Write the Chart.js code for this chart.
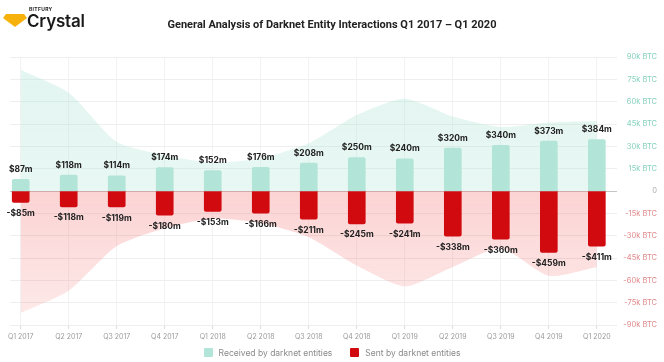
<!DOCTYPE html>
<html>
<head>
<meta charset="utf-8">
<script src="https://cdn.jsdelivr.net/npm/chart.js@4"></script>
<style>
  html, body { margin: 0; padding: 0; background: #fff; }
  #wrap { position: relative; width: 664px; height: 362px; font-family: Inter, Roboto, sans-serif; }
  #logo { position: absolute; left: 3px; top: 7px; }
  #brand-small { position: absolute; left: 29px; top: 6px; font-size: 5px; font-weight: 700; letter-spacing: .3px; color: #222; }
  #brand { position: absolute; left: 27px; top: 11px; font-size: 17px; font-weight: 600; color: #1a1a1a; letter-spacing: -.2px; }
  #title { position: absolute; left: 0; width: 664px; top: 18px; text-align: center; font-size: 11px; font-weight: 700; color: #222; font-family: Roboto, sans-serif; }
  #legend { position: absolute; left: 0; width: 664px; top: 348px; text-align: center; font-size: 8.5px; color: #8a8a8a; }
  #legend span.it { display: inline-block; margin: 0 9px; }
  #legend i { display: inline-block; width: 9px; height: 9px; border-radius: 1px; vertical-align: -1px; margin-right: 6px; }
</style>
</head>
<body>
<div id="wrap">
  <canvas id="c" width="664" height="362"></canvas>
  <svg id="logo" width="24" height="24" viewBox="0 0 24 24"><polygon points="3,7 21,7 24,11 12,20 0,11" fill="#f6b10a"/></svg>
  <div id="brand-small">BITFURY</div>
  <div id="brand">Crystal</div>
  <div id="title">General Analysis of Darknet Entity Interactions Q1 2017 – Q1 2020</div>
  <div id="legend"></div>
</div>
<script>
// ── Data ─────────────────────────────────────────────────
const quarters = ['Q1 2017','Q2 2017','Q3 2017','Q4 2017','Q1 2018','Q2 2018','Q3 2018','Q4 2018','Q1 2019','Q2 2019','Q3 2019','Q4 2019','Q1 2020'];
// USD millions (bars)
const receivedUsd = [87, 118, 114, 174, 152, 176, 208, 250, 240, 320, 340, 373, 384];
const sentUsd = [-85, -118, -119, -180, -153, -166, -211, -245, -241, -338, -360, -459, -411];
// BTC volume (background areas)
const receivedBtc = [81500, 66000, 33000, 24000, 19000, 22000, 32000, 51000, 62000, 50000, 43000, 46000, 47000];
const sentBtc = [-82000, -67000, -37000, -25000, -18500, -21500, -31000, -50000, -64000, -51000, -38500, -57000, -51000];
const btcTicks = [-90000, -75000, -60000, -45000, -30000, -15000, 0, 15000, 30000, 45000, 60000, 75000, 90000];

const GREEN = '#b2e5d7', RED = '#d10a10';
const pts = arr => arr.map((v, i) => ({ x: i, y: v }));

// ── Area gradients ───────────────────────────────────────
function grad(ctx, area, up, col, a0, a1) {
  if (!area) return col;
  const mid = (area.top + area.bottom) / 2;
  const g = ctx.createLinearGradient(0, mid, 0, up ? area.top : area.bottom);
  g.addColorStop(0, `rgba(${col},${a0})`);
  g.addColorStop(1, `rgba(${col},${a1})`);
  return g;
}

// ── Value labels on bars ─────────────────────────────────
const barLabels = {
  id: 'barLabels',
  afterDatasetsDraw(chart) {
    const ctx = chart.ctx;
    ctx.save();
    ctx.font = '700 8.5px Inter, sans-serif';
    ctx.fillStyle = '#222';
    ctx.textAlign = 'center';
    ctx.textBaseline = 'middle';
    [0, 1].forEach(di => {
      const ds = chart.data.datasets[di];
      chart.getDatasetMeta(di).data.forEach((el, i) => {
        const v = ds.data[i].y;
        const txt = (v < 0 ? '-$' : '$') + Math.abs(v) + 'm';
        ctx.fillText(txt, el.x, v < 0 ? el.y + 11 : el.y - 10);
      });
    });
    ctx.restore();
  }
};

const ctx = document.getElementById('c').getContext('2d');
new Chart(ctx, {
  data: {
    datasets: [
      { type: 'bar', label: 'Received by darknet entities', data: pts(receivedUsd), yAxisID: 'y', backgroundColor: GREEN, barThickness: 17, borderRadius: 2, borderSkipped: 'start', grouped: false, order: 0, clip: false },
      { type: 'bar', label: 'Sent by darknet entities', data: pts(sentUsd), yAxisID: 'y', backgroundColor: RED, barThickness: 17, borderRadius: 2, borderSkipped: 'start', grouped: false, order: 0, clip: false },
      { type: 'line', label: 'rbtc', data: pts(receivedBtc), yAxisID: 'y2', fill: 'origin', borderWidth: 0, pointRadius: 0, tension: .22, order: 1,
        backgroundColor: c => grad(c.chart.ctx, c.chart.chartArea, true, '178,229,215', .3, .36) },
      { type: 'line', label: 'sbtc', data: pts(sentBtc), yAxisID: 'y2', fill: 'origin', borderWidth: 0, pointRadius: 0, tension: .22, order: 1,
        backgroundColor: c => grad(c.chart.ctx, c.chart.chartArea, false, '244,110,110', .3, .14) }
    ]
  },
  options: {
    responsive: false, animation: false,
    layout: { padding: { left: 10, right: 7, top: 57, bottom: 21 } },
    plugins: { legend: { display: false }, tooltip: { enabled: false } },
    scales: {
      x: {
        type: 'linear', min: -0.223, max: 12.42, offset: false,
        afterBuildTicks: s => { s.ticks = quarters.map((_, i) => ({ value: i })); },
        afterFit: s => { s.height = 16; },
        ticks: { color: '#9a9a9a', font: { family: 'Inter', size: 7 }, padding: 4, maxRotation: 0, autoSkip: false, callback: v => quarters[v] },
        grid: { offset: false, color: '#f2f2f2', tickLength: 4, tickColor: '#dddddd' },
        border: { display: false }
      },
      y: { display: false, min: -1000, max: 1000 },
      y2: {
        position: 'right', min: -90000, max: 90000,
        afterBuildTicks: s => { s.ticks = btcTicks.map(v => ({ value: v })); },
        afterFit: s => { s.width = 40; },
        ticks: {
          crossAlign: 'far', padding: 4,
          font: { family: 'Inter', size: 7.5 },
          color: c => c.tick.value > 0 ? '#86d1bd' : c.tick.value < 0 ? '#e0898b' : '#aaa',
          callback: v => v === 0 ? '0' : (v / 1000) + 'k BTC'
        },
        grid: { drawTicks: false, color: c => c.tick.value === 0 ? '#c4c4c4' : '#eeeeee' },
        border: { display: false }
      }
    }
  },
  plugins: [barLabels]
});

document.getElementById('legend').innerHTML =
  `<span class="it"><i style="background:${GREEN}"></i>Received by darknet entities</span>` +
  `<span class="it"><i style="background:${RED}"></i>Sent by darknet entities</span>`;
</script>
</body>
</html>
